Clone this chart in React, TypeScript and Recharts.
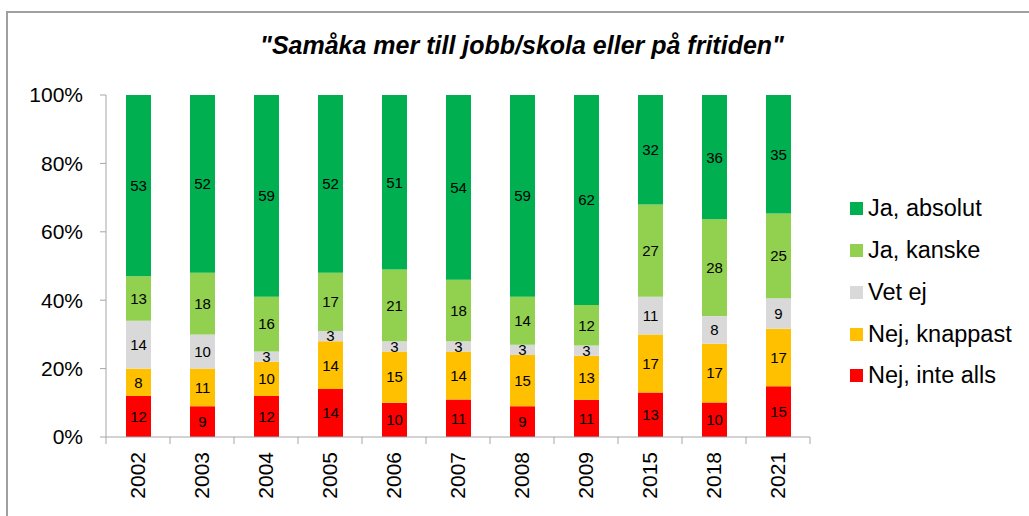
import { Bar, BarChart, LabelList, Legend, XAxis, YAxis } from "recharts";

const years = ["2002", "2003", "2004", "2005", "2006", "2007", "2008", "2009", "2015", "2018", "2021"];
const nejInteAlls = [12, 9, 12, 14, 10, 11, 9, 11, 13, 10, 15];
const nejKnappast = [8, 11, 10, 14, 15, 14, 15, 13, 17, 17, 17];
const vetEj = [14, 10, 3, 3, 3, 3, 3, 3, 11, 8, 9];
const jaKanske = [13, 18, 16, 17, 21, 18, 14, 12, 27, 28, 25];
const jaAbsolut = [53, 52, 59, 52, 51, 54, 59, 62, 32, 36, 35];
const yTicks = [0, 0.2, 0.4, 0.6, 0.8, 1];

const series = [
  { key: "nejInteAlls", name: "Nej, inte alls", color: "#FF0000" },
  { key: "nejKnappast", name: "Nej, knappast", color: "#FFC000" },
  { key: "vetEj", name: "Vet ej", color: "#D9D9D9" },
  { key: "jaKanske", name: "Ja, kanske", color: "#92D050" },
  { key: "jaAbsolut", name: "Ja, absolut", color: "#00B050" },
];

const data = years.map((year, i) => ({
  year,
  nejInteAlls: nejInteAlls[i],
  nejKnappast: nejKnappast[i],
  vetEj: vetEj[i],
  jaKanske: jaKanske[i],
  jaAbsolut: jaAbsolut[i],
}));

const FONT = '"Liberation Sans", Arial, sans-serif';
const AXIS = "#A6A6A6";

// year label rotated, plus tick marks between the categories
const YearTick = (props: any) => {
  const { x, y, payload, index, visibleTicksCount } = props;
  const half = payload.offset || 32;
  const top = y - 15;
  return (
    <g>
      <line x1={x - half} x2={x - half} y1={top} y2={top + 7} stroke={AXIS} />
      {index === visibleTicksCount - 1 && (
        <line x1={x + half} x2={x + half} y1={top} y2={top + 7} stroke={AXIS} />
      )}
      <text
        x={x}
        y={y}
        transform={`rotate(-90 ${x} ${y})`}
        textAnchor="end"
        dy="0.35em"
        fontSize={21}
        fill="#000"
        fontFamily={FONT}
      >
        {payload.value}
      </text>
    </g>
  );
};

const LegendBox = () => (
  <div style={{ fontFamily: FONT, fontSize: 23.5, color: "#000" }}>
    {[...series].reverse().map((s) => (
      <div key={s.key} style={{ height: 41.75, display: "flex", alignItems: "center", whiteSpace: "nowrap" }}>
        <span style={{ width: 13, height: 13, background: s.color, marginRight: 5, display: "inline-block" }} />
        {s.name}
      </div>
    ))}
  </div>
);

export default function App() {
  return (
    <div style={{ position: "absolute", left: 0, top: 0, width: 1029, height: 516, background: "#fff", fontFamily: FONT }}>
      <div
        style={{
          position: "absolute",
          left: 6,
          top: 11,
          right: 0,
          bottom: 0,
          borderLeft: "2px solid #A0A0A0",
          borderTop: "2px solid #A0A0A0",
        }}
      />
      <div
        style={{
          position: "absolute",
          left: 0,
          width: 1044,
          top: 34,
          textAlign: "center",
          fontSize: 25,
          lineHeight: "23px",
          fontWeight: "bold",
          fontStyle: "italic",
        }}
      >
        "Samåka mer till jobb/skola eller på fritiden"
      </div>
      <BarChart
        width={1029}
        height={516}
        data={data}
        stackOffset="expand"
        margin={{ top: 95, right: 44, left: 0, bottom: 0 }}
        style={{ position: "absolute", left: 0, top: 0 }}
      >
        <XAxis
          dataKey="year"
          height={79}
          interval={0}
          stroke={AXIS}
          tickLine={false}
          tickSize={7}
          tickMargin={8}
          tick={<YearTick />}
        />
        <YAxis
          width={106}
          domain={[0, 1]}
          ticks={yTicks}
          stroke={AXIS}
          tickSize={6}
          tickMargin={17}
          tick={{ fill: "#000", fontSize: 21, fontFamily: FONT }}
          tickFormatter={(v: number) => `${Math.round(v * 100)}%`}
        />
        <Legend
          layout="horizontal"
          align="right"
          verticalAlign="middle"
          content={<LegendBox />}
          wrapperStyle={{ left: 850, top: 188, width: 175, height: 210 }}
        />
        {series.map((s) => (
          <Bar key={s.key} dataKey={s.key} name={s.name} stackId="a" fill={s.color} barSize={25} isAnimationActive={false}>
            <LabelList dataKey={s.key} position="center" fill="#000" fontSize={15} fontFamily={FONT} />
          </Bar>
        ))}
      </BarChart>
    </div>
  );
}
